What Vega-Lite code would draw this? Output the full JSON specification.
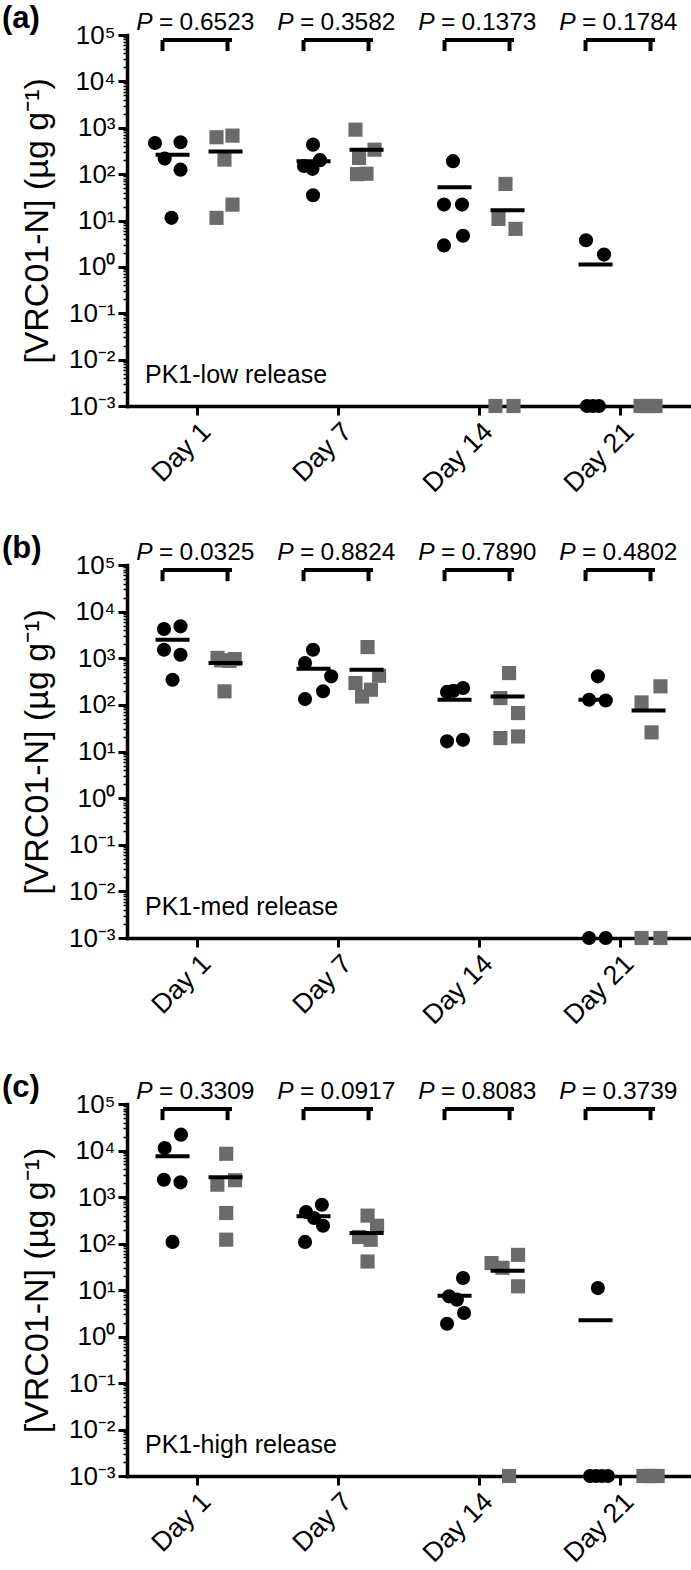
{
  "$schema": "https://vega.github.io/schema/vega-lite/v6.json",
  "autosize": {"type": "pad"},
  "padding": {"left": 2, "top": 2, "right": 0, "bottom": 0},
  "bounds": "flush",
  "spacing": 159,
  "config": {
    "font": "Liberation Sans",
    "view": {"stroke": null},
    "axis": {"grid": false, "domainColor": "black", "tickColor": "black", "labelColor": "black", "titleColor": "black", "labelFont": "Liberation Sans", "titleFont": "Liberation Sans"},
    "text": {"font": "Liberation Sans", "color": "black"}
  },
  "datasets": {
    "panels": [
      {"panel": "a", "letter": "(a)", "name": "PK1-low release"},
      {"panel": "b", "letter": "(b)", "name": "PK1-med release"},
      {"panel": "c", "letter": "(c)", "name": "PK1-high release"}
    ],
    "pvals": [
      {"panel": "a", "day": "Day 1", "p": 0.6523}, {"panel": "a", "day": "Day 7", "p": 0.3582}, {"panel": "a", "day": "Day 14", "p": 0.1373}, {"panel": "a", "day": "Day 21", "p": 0.1784},
      {"panel": "b", "day": "Day 1", "p": 0.0325}, {"panel": "b", "day": "Day 7", "p": 0.8824}, {"panel": "b", "day": "Day 14", "p": 0.7890}, {"panel": "b", "day": "Day 21", "p": 0.4802},
      {"panel": "c", "day": "Day 1", "p": 0.3309}, {"panel": "c", "day": "Day 7", "p": 0.0917}, {"panel": "c", "day": "Day 14", "p": 0.8083}, {"panel": "c", "day": "Day 21", "p": 0.3739}
    ],
    "means": [
      {"panel": "a", "day": "Day 1", "group": "A", "mean": 262}, {"panel": "a", "day": "Day 1", "group": "B", "mean": 308},
      {"panel": "a", "day": "Day 7", "group": "A", "mean": 190}, {"panel": "a", "day": "Day 7", "group": "B", "mean": 334},
      {"panel": "a", "day": "Day 14", "group": "A", "mean": 52}, {"panel": "a", "day": "Day 14", "group": "B", "mean": 16.7},
      {"panel": "a", "day": "Day 21", "group": "A", "mean": 1.12},
      {"panel": "b", "day": "Day 1", "group": "A", "mean": 2500}, {"panel": "b", "day": "Day 1", "group": "B", "mean": 789},
      {"panel": "b", "day": "Day 7", "group": "A", "mean": 595}, {"panel": "b", "day": "Day 7", "group": "B", "mean": 568},
      {"panel": "b", "day": "Day 14", "group": "A", "mean": 128.6}, {"panel": "b", "day": "Day 14", "group": "B", "mean": 152},
      {"panel": "b", "day": "Day 21", "group": "A", "mean": 128.6}, {"panel": "b", "day": "Day 21", "group": "B", "mean": 76},
      {"panel": "c", "day": "Day 1", "group": "A", "mean": 7500}, {"panel": "c", "day": "Day 1", "group": "B", "mean": 2655},
      {"panel": "c", "day": "Day 7", "group": "A", "mean": 385}, {"panel": "c", "day": "Day 7", "group": "B", "mean": 168},
      {"panel": "c", "day": "Day 14", "group": "A", "mean": 7.55}, {"panel": "c", "day": "Day 14", "group": "B", "mean": 26},
      {"panel": "c", "day": "Day 21", "group": "A", "mean": 2.23}
    ],
    "points": [
      {"panel": "a", "day": "Day 1", "group": "A", "value": 470, "jitter": -0.97},
      {"panel": "a", "day": "Day 1", "group": "A", "value": 486, "jitter": 0.53},
      {"panel": "a", "day": "Day 1", "group": "A", "value": 216, "jitter": -0.4},
      {"panel": "a", "day": "Day 1", "group": "A", "value": 125, "jitter": 0.53},
      {"panel": "a", "day": "Day 1", "group": "A", "value": 11.4, "jitter": 0},
      {"panel": "a", "day": "Day 1", "group": "B", "value": 624, "jitter": -0.47},
      {"panel": "a", "day": "Day 1", "group": "B", "value": 677, "jitter": 0.47},
      {"panel": "a", "day": "Day 1", "group": "B", "value": 206, "jitter": 0},
      {"panel": "a", "day": "Day 1", "group": "B", "value": 22, "jitter": 0.47},
      {"panel": "a", "day": "Day 1", "group": "B", "value": 11.4, "jitter": -0.47},
      {"panel": "a", "day": "Day 7", "group": "A", "value": 432, "jitter": 0.03},
      {"panel": "a", "day": "Day 7", "group": "A", "value": 200, "jitter": 0.44},
      {"panel": "a", "day": "Day 7", "group": "A", "value": 150, "jitter": -0.5},
      {"panel": "a", "day": "Day 7", "group": "A", "value": 130, "jitter": 0.0},
      {"panel": "a", "day": "Day 7", "group": "A", "value": 35, "jitter": 0.03},
      {"panel": "a", "day": "Day 7", "group": "B", "value": 910, "jitter": -0.59},
      {"panel": "a", "day": "Day 7", "group": "B", "value": 337, "jitter": 0.53},
      {"panel": "a", "day": "Day 7", "group": "B", "value": 223, "jitter": -0.38},
      {"panel": "a", "day": "Day 7", "group": "B", "value": 102, "jitter": 0.06},
      {"panel": "a", "day": "Day 7", "group": "B", "value": 100, "jitter": -0.5},
      {"panel": "a", "day": "Day 14", "group": "A", "value": 190, "jitter": -0.03},
      {"panel": "a", "day": "Day 14", "group": "A", "value": 22, "jitter": -0.56},
      {"panel": "a", "day": "Day 14", "group": "A", "value": 22, "jitter": 0.5},
      {"panel": "a", "day": "Day 14", "group": "A", "value": 4.7, "jitter": 0.56},
      {"panel": "a", "day": "Day 14", "group": "A", "value": 2.9, "jitter": -0.56},
      {"panel": "a", "day": "Day 14", "group": "B", "value": 61.5, "jitter": -0.06},
      {"panel": "a", "day": "Day 14", "group": "B", "value": 10.8, "jitter": -0.47},
      {"panel": "a", "day": "Day 14", "group": "B", "value": 6.6, "jitter": 0.53},
      {"panel": "a", "day": "Day 14", "group": "B", "value": 0.001, "jitter": -0.65},
      {"panel": "a", "day": "Day 14", "group": "B", "value": 0.001, "jitter": 0.41},
      {"panel": "a", "day": "Day 21", "group": "A", "value": 3.76, "jitter": -0.5},
      {"panel": "a", "day": "Day 21", "group": "A", "value": 1.84, "jitter": 0.56},
      {"panel": "a", "day": "Day 21", "group": "A", "value": 0.001, "jitter": -0.44},
      {"panel": "a", "day": "Day 21", "group": "A", "value": 0.001, "jitter": -0.09},
      {"panel": "a", "day": "Day 21", "group": "A", "value": 0.001, "jitter": 0.26},
      {"panel": "a", "day": "Day 21", "group": "B", "value": 0.001, "jitter": -0.41},
      {"panel": "a", "day": "Day 21", "group": "B", "value": 0.001, "jitter": -0.18},
      {"panel": "a", "day": "Day 21", "group": "B", "value": 0.001, "jitter": 0.03},
      {"panel": "a", "day": "Day 21", "group": "B", "value": 0.001, "jitter": 0.24},
      {"panel": "a", "day": "Day 21", "group": "B", "value": 0.001, "jitter": 0.47},
      {"panel": "b", "day": "Day 1", "group": "A", "value": 4236, "jitter": -0.44},
      {"panel": "b", "day": "Day 1", "group": "A", "value": 4830, "jitter": 0.53},
      {"panel": "b", "day": "Day 1", "group": "A", "value": 1524, "jitter": -0.44},
      {"panel": "b", "day": "Day 1", "group": "A", "value": 1189, "jitter": 0.53},
      {"panel": "b", "day": "Day 1", "group": "A", "value": 346, "jitter": 0.06},
      {"panel": "b", "day": "Day 1", "group": "B", "value": 1020, "jitter": -0.41},
      {"panel": "b", "day": "Day 1", "group": "B", "value": 960, "jitter": 0.6},
      {"panel": "b", "day": "Day 1", "group": "B", "value": 900, "jitter": -0.2},
      {"panel": "b", "day": "Day 1", "group": "B", "value": 880, "jitter": 0.3},
      {"panel": "b", "day": "Day 1", "group": "B", "value": 195, "jitter": 0},
      {"panel": "b", "day": "Day 7", "group": "A", "value": 1524, "jitter": 0.03},
      {"panel": "b", "day": "Day 7", "group": "A", "value": 789, "jitter": -0.44},
      {"panel": "b", "day": "Day 7", "group": "A", "value": 409, "jitter": 1.1},
      {"panel": "b", "day": "Day 7", "group": "A", "value": 195, "jitter": 0.62},
      {"panel": "b", "day": "Day 7", "group": "A", "value": 133, "jitter": -0.44},
      {"panel": "b", "day": "Day 7", "group": "B", "value": 1738, "jitter": 0.12},
      {"panel": "b", "day": "Day 7", "group": "B", "value": 422, "jitter": 0.8},
      {"panel": "b", "day": "Day 7", "group": "B", "value": 294, "jitter": -0.59},
      {"panel": "b", "day": "Day 7", "group": "B", "value": 211, "jitter": 0.32},
      {"panel": "b", "day": "Day 7", "group": "B", "value": 151, "jitter": -0.2},
      {"panel": "b", "day": "Day 14", "group": "A", "value": 190, "jitter": -0.38},
      {"panel": "b", "day": "Day 14", "group": "A", "value": 200, "jitter": 0},
      {"panel": "b", "day": "Day 14", "group": "A", "value": 230, "jitter": 0.56},
      {"panel": "b", "day": "Day 14", "group": "A", "value": 16.5, "jitter": -0.38},
      {"panel": "b", "day": "Day 14", "group": "A", "value": 17.8, "jitter": 0.56},
      {"panel": "b", "day": "Day 14", "group": "B", "value": 481, "jitter": 0.15},
      {"panel": "b", "day": "Day 14", "group": "B", "value": 140, "jitter": -0.36},
      {"panel": "b", "day": "Day 14", "group": "B", "value": 66.7, "jitter": 0.68},
      {"panel": "b", "day": "Day 14", "group": "B", "value": 19.4, "jitter": -0.36},
      {"panel": "b", "day": "Day 14", "group": "B", "value": 21, "jitter": 0.68},
      {"panel": "b", "day": "Day 21", "group": "A", "value": 409, "jitter": 0.2},
      {"panel": "b", "day": "Day 21", "group": "A", "value": 128.5, "jitter": -0.32},
      {"panel": "b", "day": "Day 21", "group": "A", "value": 124, "jitter": 0.66},
      {"panel": "b", "day": "Day 21", "group": "A", "value": 0.001, "jitter": -0.32},
      {"panel": "b", "day": "Day 21", "group": "A", "value": 0.001, "jitter": 0.66},
      {"panel": "b", "day": "Day 21", "group": "B", "value": 250, "jitter": 0.76},
      {"panel": "b", "day": "Day 21", "group": "B", "value": 113, "jitter": -0.35},
      {"panel": "b", "day": "Day 21", "group": "B", "value": 25.7, "jitter": 0.24},
      {"panel": "b", "day": "Day 21", "group": "B", "value": 0.001, "jitter": -0.35},
      {"panel": "b", "day": "Day 21", "group": "B", "value": 0.001, "jitter": 0.76},
      {"panel": "c", "day": "Day 1", "group": "A", "value": 21900, "jitter": 0.56},
      {"panel": "c", "day": "Day 1", "group": "A", "value": 11330, "jitter": -0.4},
      {"panel": "c", "day": "Day 1", "group": "A", "value": 2355, "jitter": -0.45},
      {"panel": "c", "day": "Day 1", "group": "A", "value": 2070, "jitter": 0.53},
      {"panel": "c", "day": "Day 1", "group": "A", "value": 108, "jitter": 0.06},
      {"panel": "c", "day": "Day 1", "group": "B", "value": 8500, "jitter": 0.1},
      {"panel": "c", "day": "Day 1", "group": "B", "value": 2300, "jitter": 0.62},
      {"panel": "c", "day": "Day 1", "group": "B", "value": 1841, "jitter": -0.42},
      {"panel": "c", "day": "Day 1", "group": "B", "value": 453, "jitter": 0.1},
      {"panel": "c", "day": "Day 1", "group": "B", "value": 121, "jitter": 0.1},
      {"panel": "c", "day": "Day 7", "group": "A", "value": 475, "jitter": -0.38},
      {"panel": "c", "day": "Day 7", "group": "A", "value": 683, "jitter": 0.55},
      {"panel": "c", "day": "Day 7", "group": "A", "value": 353, "jitter": 0.09},
      {"panel": "c", "day": "Day 7", "group": "A", "value": 241, "jitter": 0.62},
      {"panel": "c", "day": "Day 7", "group": "A", "value": 108, "jitter": -0.44},
      {"panel": "c", "day": "Day 7", "group": "B", "value": 397, "jitter": 0.12},
      {"panel": "c", "day": "Day 7", "group": "B", "value": 241, "jitter": 0.68},
      {"panel": "c", "day": "Day 7", "group": "B", "value": 138, "jitter": -0.38},
      {"panel": "c", "day": "Day 7", "group": "B", "value": 120, "jitter": 0.3},
      {"panel": "c", "day": "Day 7", "group": "B", "value": 41, "jitter": 0.12},
      {"panel": "c", "day": "Day 14", "group": "A", "value": 18.1, "jitter": 0.56},
      {"panel": "c", "day": "Day 14", "group": "A", "value": 7.3, "jitter": -0.26},
      {"panel": "c", "day": "Day 14", "group": "A", "value": 6.2, "jitter": 0.2},
      {"panel": "c", "day": "Day 14", "group": "A", "value": 3.2, "jitter": 0.62},
      {"panel": "c", "day": "Day 14", "group": "A", "value": 1.88, "jitter": -0.38},
      {"panel": "c", "day": "Day 14", "group": "B", "value": 57, "jitter": 0.68},
      {"panel": "c", "day": "Day 14", "group": "B", "value": 38, "jitter": -0.88},
      {"panel": "c", "day": "Day 14", "group": "B", "value": 30, "jitter": -0.24},
      {"panel": "c", "day": "Day 14", "group": "B", "value": 12, "jitter": 0.68},
      {"panel": "c", "day": "Day 14", "group": "B", "value": 0.001, "jitter": 0.15},
      {"panel": "c", "day": "Day 21", "group": "A", "value": 11, "jitter": 0.2},
      {"panel": "c", "day": "Day 21", "group": "A", "value": 0.001, "jitter": -0.26},
      {"panel": "c", "day": "Day 21", "group": "A", "value": 0.001, "jitter": 0.09},
      {"panel": "c", "day": "Day 21", "group": "A", "value": 0.001, "jitter": 0.44},
      {"panel": "c", "day": "Day 21", "group": "A", "value": 0.001, "jitter": 0.79},
      {"panel": "c", "day": "Day 21", "group": "B", "value": 0.001, "jitter": -0.24},
      {"panel": "c", "day": "Day 21", "group": "B", "value": 0.001, "jitter": 0.0},
      {"panel": "c", "day": "Day 21", "group": "B", "value": 0.001, "jitter": 0.2},
      {"panel": "c", "day": "Day 21", "group": "B", "value": 0.001, "jitter": 0.4},
      {"panel": "c", "day": "Day 21", "group": "B", "value": 0.001, "jitter": 0.6}
    ]
  },
  "vconcat": [
    {
      "width": 564, "height": 371,
      "resolve": {"scale": {"xOffset": "independent"}},
      "layer": [
        {"data": {"name": "points"}, "transform": [{"filter": "datum.panel == 'a' && datum.group == 'A'"}],
         "mark": {"type": "point", "shape": "circle", "filled": true, "color": "black", "opacity": 1, "size": 200, "strokeWidth": 0},
         "encoding": {
           "x": {"field": "day", "type": "nominal", "scale": {"domain": ["Day 1", "Day 7", "Day 14", "Day 21"], "paddingInner": 0, "paddingOuter": 0},
                 "axis": {"title": null, "labelAngle": -45, "labelAlign": "right", "labelBaseline": "top", "labelFontSize": 27, "labelPadding": 3, "tickSize": 9, "tickWidth": 3, "domainWidth": 3.5, "labelOverlap": false, "domainCap": "square"}},
           "xOffset": {"field": "jitter", "type": "quantitative", "scale": {"domain": [-1, 1], "range": [27.5, 61.5]}},
           "y": {"field": "value", "type": "quantitative", "scale": {"type": "log", "domain": [0.001, 100000], "nice": false},
                 "axis": {"title": "[VRC01-N] (µg g⁻¹)", "titleFontSize": 34, "titleFontWeight": "normal", "titlePadding": 14,
                          "values": [0.001,0.002,0.003,0.004,0.005,0.006,0.007,0.008,0.009,0.01,0.02,0.03,0.04,0.05,0.06,0.07,0.08,0.09,0.1,0.2,0.3,0.4,0.5,0.6,0.7,0.8,0.9,1,2,3,4,5,6,7,8,9,10,20,30,40,50,60,70,80,90,100,200,300,400,500,600,700,800,900,1000,2000,3000,4000,5000,6000,7000,8000,9000,10000,20000,30000,40000,50000,60000,70000,80000,90000,100000],
                          "labelExpr": "datum.value == 100000 ? '10⁵' : datum.value == 10000 ? '10⁴' : datum.value == 1000 ? '10³' : datum.value == 100 ? '10²' : datum.value == 10 ? '10¹' : datum.value == 1 ? '10⁰' : datum.value == 0.1 ? '10⁻¹' : datum.value == 0.01 ? '10⁻²' : datum.value == 0.001 ? '10⁻³' : ''",
                          "labelFontSize": 26, "labelPadding": 3, "labelOverlap": false, "domainWidth": 3.5, "domainCap": "square",
                          "tickSize": {"condition": {"test": "indexof([0.001,0.01,0.1,1,10,100,1000,10000,100000], datum.value) >= 0", "value": 9}, "value": 4},
                          "tickWidth": {"condition": {"test": "indexof([0.001,0.01,0.1,1,10,100,1000,10000,100000], datum.value) >= 0", "value": 3}, "value": 1.5}}}
         }},
        {"data": {"name": "points"}, "transform": [{"filter": "datum.panel == 'a' && datum.group == 'B'"}],
         "mark": {"type": "point", "shape": "square", "filled": true, "color": "#6b6b6b", "opacity": 1, "size": 200, "strokeWidth": 0},
         "encoding": {
           "x": {"field": "day", "type": "nominal"},
           "xOffset": {"field": "jitter", "type": "quantitative", "scale": {"domain": [-1, 1], "range": [80.5, 114.5]}},
           "y": {"field": "value", "type": "quantitative"}
         }},
        {"data": {"name": "means"}, "transform": [{"filter": "datum.panel == 'a' && datum.group == 'A'"}],
         "mark": {"type": "point", "shape": "M-1,-0.1176L1,-0.1176L1,0.1176L-1,0.1176Z", "size": 1156, "filled": true, "color": "black", "opacity": 1, "strokeWidth": 0},
         "encoding": {
           "x": {"field": "day", "type": "nominal", "bandPosition": 0.323},
           "y": {"field": "mean", "type": "quantitative"}
         }},
        {"data": {"name": "means"}, "transform": [{"filter": "datum.panel == 'a' && datum.group == 'B'"}],
         "mark": {"type": "point", "shape": "M-1,-0.1176L1,-0.1176L1,0.1176L-1,0.1176Z", "size": 1156, "filled": true, "color": "black", "opacity": 1, "strokeWidth": 0},
         "encoding": {
           "x": {"field": "day", "type": "nominal", "bandPosition": 0.699},
           "y": {"field": "mean", "type": "quantitative"}
         }},
        {"data": {"name": "pvals"}, "transform": [{"filter": "datum.panel == 'a'"}],
         "mark": {"type": "tick", "color": "black", "thickness": 4, "size": 69, "opacity": 1},
         "encoding": {
           "x": {"field": "day", "type": "nominal"},
           "y": {"datum": 78000, "type": "quantitative"}
         }},
        {"data": {"name": "pvals"}, "transform": [{"filter": "datum.panel == 'a'"}],
         "mark": {"type": "rule", "color": "black", "strokeWidth": 4},
         "encoding": {
           "x": {"field": "day", "type": "nominal", "bandPosition": 0.252},
           "y": {"datum": 78000, "type": "quantitative"},
           "y2": {"datum": 45000}
         }},
        {"data": {"name": "pvals"}, "transform": [{"filter": "datum.panel == 'a'"}],
         "mark": {"type": "rule", "color": "black", "strokeWidth": 4},
         "encoding": {
           "x": {"field": "day", "type": "nominal", "bandPosition": 0.713},
           "y": {"datum": 78000, "type": "quantitative"},
           "y2": {"datum": 45000}
         }},
        {"data": {"name": "pvals"}, "transform": [{"filter": "datum.panel == 'a'"}],
         "mark": {"type": "text", "text": "P", "fontStyle": "italic", "fontSize": 24.5, "align": "right", "baseline": "alphabetic", "dx": -45},
         "encoding": {
           "x": {"field": "day", "type": "nominal", "bandPosition": 0.5},
           "y": {"datum": 128000, "type": "quantitative"}
         }},
        {"data": {"name": "pvals"}, "transform": [{"filter": "datum.panel == 'a'"}],
         "mark": {"type": "text", "text": "=", "fontSize": 24.5, "align": "left", "baseline": "alphabetic", "dx": -38.5},
         "encoding": {
           "x": {"field": "day", "type": "nominal", "bandPosition": 0.5},
           "y": {"datum": 128000, "type": "quantitative"}
         }},
        {"data": {"name": "pvals"}, "transform": [{"filter": "datum.panel == 'a'"}],
         "mark": {"type": "text", "fontSize": 24.5, "align": "left", "baseline": "alphabetic", "dx": -18},
         "encoding": {
           "text": {"field": "p", "type": "quantitative", "format": ".4f"},
           "x": {"field": "day", "type": "nominal", "bandPosition": 0.5},
           "y": {"datum": 128000, "type": "quantitative"}
         }},
        {"data": {"name": "panels"}, "transform": [{"filter": "datum.panel == 'a'"}],
         "mark": {"type": "text", "fontSize": 31, "fontWeight": "bold", "align": "left", "baseline": "alphabetic", "dx": -125},
         "encoding": {
           "text": {"field": "letter", "type": "nominal"},
           "x": {"datum": "Day 1", "type": "nominal", "bandPosition": 0},
           "y": {"datum": 141600, "type": "quantitative"}
         }},
        {"data": {"name": "panels"}, "transform": [{"filter": "datum.panel == 'a'"}],
         "mark": {"type": "text", "fontSize": 25, "align": "left", "baseline": "alphabetic", "dx": 18},
         "encoding": {
           "text": {"field": "name", "type": "nominal"},
           "x": {"datum": "Day 1", "type": "nominal", "bandPosition": 0},
           "y": {"datum": 0.00316, "type": "quantitative"}
         }}
      ]
    },
    {
      "bounds": "flush",
      "spacing": 166,
      "vconcat": [
        {
          "width": 564, "height": 373,
          "resolve": {"scale": {"xOffset": "independent"}},
          "layer": [
            {"data": {"name": "points"}, "transform": [{"filter": "datum.panel == 'b' && datum.group == 'A'"}],
             "mark": {"type": "point", "shape": "circle", "filled": true, "color": "black", "opacity": 1, "size": 200, "strokeWidth": 0},
             "encoding": {
               "x": {"field": "day", "type": "nominal", "scale": {"domain": ["Day 1", "Day 7", "Day 14", "Day 21"], "paddingInner": 0, "paddingOuter": 0},
                     "axis": {"title": null, "labelAngle": -45, "labelAlign": "right", "labelBaseline": "top", "labelFontSize": 27, "labelPadding": 3, "tickSize": 9, "tickWidth": 3, "domainWidth": 3.5, "labelOverlap": false, "domainCap": "square"}},
               "xOffset": {"field": "jitter", "type": "quantitative", "scale": {"domain": [-1, 1], "range": [27.5, 61.5]}},
               "y": {"field": "value", "type": "quantitative", "scale": {"type": "log", "domain": [0.001, 100000], "nice": false},
                     "axis": {"title": "[VRC01-N] (µg g⁻¹)", "titleFontSize": 34, "titleFontWeight": "normal", "titlePadding": 14,
                              "values": [0.001,0.002,0.003,0.004,0.005,0.006,0.007,0.008,0.009,0.01,0.02,0.03,0.04,0.05,0.06,0.07,0.08,0.09,0.1,0.2,0.3,0.4,0.5,0.6,0.7,0.8,0.9,1,2,3,4,5,6,7,8,9,10,20,30,40,50,60,70,80,90,100,200,300,400,500,600,700,800,900,1000,2000,3000,4000,5000,6000,7000,8000,9000,10000,20000,30000,40000,50000,60000,70000,80000,90000,100000],
                              "labelExpr": "datum.value == 100000 ? '10⁵' : datum.value == 10000 ? '10⁴' : datum.value == 1000 ? '10³' : datum.value == 100 ? '10²' : datum.value == 10 ? '10¹' : datum.value == 1 ? '10⁰' : datum.value == 0.1 ? '10⁻¹' : datum.value == 0.01 ? '10⁻²' : datum.value == 0.001 ? '10⁻³' : ''",
                              "labelFontSize": 26, "labelPadding": 3, "labelOverlap": false, "domainWidth": 3.5, "domainCap": "square",
                              "tickSize": {"condition": {"test": "indexof([0.001,0.01,0.1,1,10,100,1000,10000,100000], datum.value) >= 0", "value": 9}, "value": 4},
                              "tickWidth": {"condition": {"test": "indexof([0.001,0.01,0.1,1,10,100,1000,10000,100000], datum.value) >= 0", "value": 3}, "value": 1.5}}}
             }},
            {"data": {"name": "points"}, "transform": [{"filter": "datum.panel == 'b' && datum.group == 'B'"}],
             "mark": {"type": "point", "shape": "square", "filled": true, "color": "#6b6b6b", "opacity": 1, "size": 200, "strokeWidth": 0},
             "encoding": {
               "x": {"field": "day", "type": "nominal"},
               "xOffset": {"field": "jitter", "type": "quantitative", "scale": {"domain": [-1, 1], "range": [80.5, 114.5]}},
               "y": {"field": "value", "type": "quantitative"}
             }},
            {"data": {"name": "means"}, "transform": [{"filter": "datum.panel == 'b' && datum.group == 'A'"}],
             "mark": {"type": "point", "shape": "M-1,-0.1176L1,-0.1176L1,0.1176L-1,0.1176Z", "size": 1156, "filled": true, "color": "black", "opacity": 1, "strokeWidth": 0},
             "encoding": {
               "x": {"field": "day", "type": "nominal", "bandPosition": 0.323},
               "y": {"field": "mean", "type": "quantitative"}
             }},
            {"data": {"name": "means"}, "transform": [{"filter": "datum.panel == 'b' && datum.group == 'B'"}],
             "mark": {"type": "point", "shape": "M-1,-0.1176L1,-0.1176L1,0.1176L-1,0.1176Z", "size": 1156, "filled": true, "color": "black", "opacity": 1, "strokeWidth": 0},
             "encoding": {
               "x": {"field": "day", "type": "nominal", "bandPosition": 0.699},
               "y": {"field": "mean", "type": "quantitative"}
             }},
            {"data": {"name": "pvals"}, "transform": [{"filter": "datum.panel == 'b'"}],
             "mark": {"type": "tick", "color": "black", "thickness": 4, "size": 69, "opacity": 1},
             "encoding": {
               "x": {"field": "day", "type": "nominal"},
               "y": {"datum": 78000, "type": "quantitative"}
             }},
            {"data": {"name": "pvals"}, "transform": [{"filter": "datum.panel == 'b'"}],
             "mark": {"type": "rule", "color": "black", "strokeWidth": 4},
             "encoding": {
               "x": {"field": "day", "type": "nominal", "bandPosition": 0.252},
               "y": {"datum": 78000, "type": "quantitative"},
               "y2": {"datum": 45000}
             }},
            {"data": {"name": "pvals"}, "transform": [{"filter": "datum.panel == 'b'"}],
             "mark": {"type": "rule", "color": "black", "strokeWidth": 4},
             "encoding": {
               "x": {"field": "day", "type": "nominal", "bandPosition": 0.713},
               "y": {"datum": 78000, "type": "quantitative"},
               "y2": {"datum": 45000}
             }},
            {"data": {"name": "pvals"}, "transform": [{"filter": "datum.panel == 'b'"}],
             "mark": {"type": "text", "text": "P", "fontStyle": "italic", "fontSize": 24.5, "align": "right", "baseline": "alphabetic", "dx": -45},
             "encoding": {
               "x": {"field": "day", "type": "nominal", "bandPosition": 0.5},
               "y": {"datum": 128000, "type": "quantitative"}
             }},
            {"data": {"name": "pvals"}, "transform": [{"filter": "datum.panel == 'b'"}],
             "mark": {"type": "text", "text": "=", "fontSize": 24.5, "align": "left", "baseline": "alphabetic", "dx": -38.5},
             "encoding": {
               "x": {"field": "day", "type": "nominal", "bandPosition": 0.5},
               "y": {"datum": 128000, "type": "quantitative"}
             }},
            {"data": {"name": "pvals"}, "transform": [{"filter": "datum.panel == 'b'"}],
             "mark": {"type": "text", "fontSize": 24.5, "align": "left", "baseline": "alphabetic", "dx": -18},
             "encoding": {
               "text": {"field": "p", "type": "quantitative", "format": ".4f"},
               "x": {"field": "day", "type": "nominal", "bandPosition": 0.5},
               "y": {"datum": 128000, "type": "quantitative"}
             }},
            {"data": {"name": "panels"}, "transform": [{"filter": "datum.panel == 'b'"}],
             "mark": {"type": "text", "fontSize": 31, "fontWeight": "bold", "align": "left", "baseline": "alphabetic", "dx": -125},
             "encoding": {
               "text": {"field": "letter", "type": "nominal"},
               "x": {"datum": "Day 1", "type": "nominal", "bandPosition": 0},
               "y": {"datum": 141600, "type": "quantitative"}
             }},
            {"data": {"name": "panels"}, "transform": [{"filter": "datum.panel == 'b'"}],
             "mark": {"type": "text", "fontSize": 25, "align": "left", "baseline": "alphabetic", "dx": 18},
             "encoding": {
               "text": {"field": "name", "type": "nominal"},
               "x": {"datum": "Day 1", "type": "nominal", "bandPosition": 0},
               "y": {"datum": 0.00316, "type": "quantitative"}
             }}
          ]
        },
        {
          "width": 564, "height": 372,
          "resolve": {"scale": {"xOffset": "independent"}},
          "layer": [
            {"data": {"name": "points"}, "transform": [{"filter": "datum.panel == 'c' && datum.group == 'A'"}],
             "mark": {"type": "point", "shape": "circle", "filled": true, "color": "black", "opacity": 1, "size": 200, "strokeWidth": 0},
             "encoding": {
               "x": {"field": "day", "type": "nominal", "scale": {"domain": ["Day 1", "Day 7", "Day 14", "Day 21"], "paddingInner": 0, "paddingOuter": 0},
                     "axis": {"title": null, "labelAngle": -45, "labelAlign": "right", "labelBaseline": "top", "labelFontSize": 27, "labelPadding": 3, "tickSize": 9, "tickWidth": 3, "domainWidth": 3.5, "labelOverlap": false, "domainCap": "square"}},
               "xOffset": {"field": "jitter", "type": "quantitative", "scale": {"domain": [-1, 1], "range": [27.5, 61.5]}},
               "y": {"field": "value", "type": "quantitative", "scale": {"type": "log", "domain": [0.001, 100000], "nice": false},
                     "axis": {"title": "[VRC01-N] (µg g⁻¹)", "titleFontSize": 34, "titleFontWeight": "normal", "titlePadding": 14,
                              "values": [0.001,0.002,0.003,0.004,0.005,0.006,0.007,0.008,0.009,0.01,0.02,0.03,0.04,0.05,0.06,0.07,0.08,0.09,0.1,0.2,0.3,0.4,0.5,0.6,0.7,0.8,0.9,1,2,3,4,5,6,7,8,9,10,20,30,40,50,60,70,80,90,100,200,300,400,500,600,700,800,900,1000,2000,3000,4000,5000,6000,7000,8000,9000,10000,20000,30000,40000,50000,60000,70000,80000,90000,100000],
                              "labelExpr": "datum.value == 100000 ? '10⁵' : datum.value == 10000 ? '10⁴' : datum.value == 1000 ? '10³' : datum.value == 100 ? '10²' : datum.value == 10 ? '10¹' : datum.value == 1 ? '10⁰' : datum.value == 0.1 ? '10⁻¹' : datum.value == 0.01 ? '10⁻²' : datum.value == 0.001 ? '10⁻³' : ''",
                              "labelFontSize": 26, "labelPadding": 3, "labelOverlap": false, "domainWidth": 3.5, "domainCap": "square",
                              "tickSize": {"condition": {"test": "indexof([0.001,0.01,0.1,1,10,100,1000,10000,100000], datum.value) >= 0", "value": 9}, "value": 4},
                              "tickWidth": {"condition": {"test": "indexof([0.001,0.01,0.1,1,10,100,1000,10000,100000], datum.value) >= 0", "value": 3}, "value": 1.5}}}
             }},
            {"data": {"name": "points"}, "transform": [{"filter": "datum.panel == 'c' && datum.group == 'B'"}],
             "mark": {"type": "point", "shape": "square", "filled": true, "color": "#6b6b6b", "opacity": 1, "size": 200, "strokeWidth": 0},
             "encoding": {
               "x": {"field": "day", "type": "nominal"},
               "xOffset": {"field": "jitter", "type": "quantitative", "scale": {"domain": [-1, 1], "range": [80.5, 114.5]}},
               "y": {"field": "value", "type": "quantitative"}
             }},
            {"data": {"name": "means"}, "transform": [{"filter": "datum.panel == 'c' && datum.group == 'A'"}],
             "mark": {"type": "point", "shape": "M-1,-0.1176L1,-0.1176L1,0.1176L-1,0.1176Z", "size": 1156, "filled": true, "color": "black", "opacity": 1, "strokeWidth": 0},
             "encoding": {
               "x": {"field": "day", "type": "nominal", "bandPosition": 0.323},
               "y": {"field": "mean", "type": "quantitative"}
             }},
            {"data": {"name": "means"}, "transform": [{"filter": "datum.panel == 'c' && datum.group == 'B'"}],
             "mark": {"type": "point", "shape": "M-1,-0.1176L1,-0.1176L1,0.1176L-1,0.1176Z", "size": 1156, "filled": true, "color": "black", "opacity": 1, "strokeWidth": 0},
             "encoding": {
               "x": {"field": "day", "type": "nominal", "bandPosition": 0.699},
               "y": {"field": "mean", "type": "quantitative"}
             }},
            {"data": {"name": "pvals"}, "transform": [{"filter": "datum.panel == 'c'"}],
             "mark": {"type": "tick", "color": "black", "thickness": 4, "size": 69, "opacity": 1},
             "encoding": {
               "x": {"field": "day", "type": "nominal"},
               "y": {"datum": 78000, "type": "quantitative"}
             }},
            {"data": {"name": "pvals"}, "transform": [{"filter": "datum.panel == 'c'"}],
             "mark": {"type": "rule", "color": "black", "strokeWidth": 4},
             "encoding": {
               "x": {"field": "day", "type": "nominal", "bandPosition": 0.252},
               "y": {"datum": 78000, "type": "quantitative"},
               "y2": {"datum": 45000}
             }},
            {"data": {"name": "pvals"}, "transform": [{"filter": "datum.panel == 'c'"}],
             "mark": {"type": "rule", "color": "black", "strokeWidth": 4},
             "encoding": {
               "x": {"field": "day", "type": "nominal", "bandPosition": 0.713},
               "y": {"datum": 78000, "type": "quantitative"},
               "y2": {"datum": 45000}
             }},
            {"data": {"name": "pvals"}, "transform": [{"filter": "datum.panel == 'c'"}],
             "mark": {"type": "text", "text": "P", "fontStyle": "italic", "fontSize": 24.5, "align": "right", "baseline": "alphabetic", "dx": -45},
             "encoding": {
               "x": {"field": "day", "type": "nominal", "bandPosition": 0.5},
               "y": {"datum": 128000, "type": "quantitative"}
             }},
            {"data": {"name": "pvals"}, "transform": [{"filter": "datum.panel == 'c'"}],
             "mark": {"type": "text", "text": "=", "fontSize": 24.5, "align": "left", "baseline": "alphabetic", "dx": -38.5},
             "encoding": {
               "x": {"field": "day", "type": "nominal", "bandPosition": 0.5},
               "y": {"datum": 128000, "type": "quantitative"}
             }},
            {"data": {"name": "pvals"}, "transform": [{"filter": "datum.panel == 'c'"}],
             "mark": {"type": "text", "fontSize": 24.5, "align": "left", "baseline": "alphabetic", "dx": -18},
             "encoding": {
               "text": {"field": "p", "type": "quantitative", "format": ".4f"},
               "x": {"field": "day", "type": "nominal", "bandPosition": 0.5},
               "y": {"datum": 128000, "type": "quantitative"}
             }},
            {"data": {"name": "panels"}, "transform": [{"filter": "datum.panel == 'c'"}],
             "mark": {"type": "text", "fontSize": 31, "fontWeight": "bold", "align": "left", "baseline": "alphabetic", "dx": -125},
             "encoding": {
               "text": {"field": "letter", "type": "nominal"},
               "x": {"datum": "Day 1", "type": "nominal", "bandPosition": 0},
               "y": {"datum": 141600, "type": "quantitative"}
             }},
            {"data": {"name": "panels"}, "transform": [{"filter": "datum.panel == 'c'"}],
             "mark": {"type": "text", "fontSize": 25, "align": "left", "baseline": "alphabetic", "dx": 18},
             "encoding": {
               "text": {"field": "name", "type": "nominal"},
               "x": {"datum": "Day 1", "type": "nominal", "bandPosition": 0},
               "y": {"datum": 0.00316, "type": "quantitative"}
             }}
          ]
        }
      ]
    }
  ]
}
